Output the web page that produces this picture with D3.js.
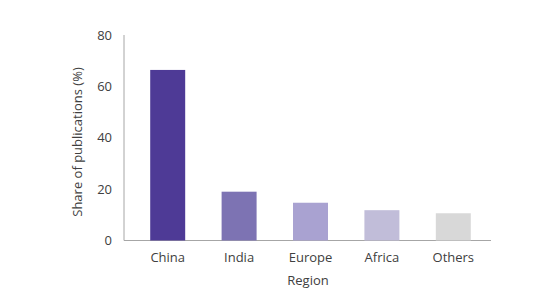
<!DOCTYPE html>
<html><head><meta charset="utf-8">
<script src="https://cdn.jsdelivr.net/npm/d3@7"></script>
<style>body{margin:0;background:#fff;} svg{display:block;} text{font-family:"Open Sans","Noto Sans",sans-serif;}</style>
</head><body>
<svg id="c" width="553" height="307"></svg>
<script>
const categories = ["China","India","Europe","Africa","Others"];
const values = [66.4, 19.0, 14.7, 11.8, 10.6];
const colors = ["#4e3a96","#7d73b3","#a9a2d1","#c1bdd9","#d8d8d8"];
const yTicks = [0,20,40,60,80];

const svg = d3.select("#c");
const x = d3.scaleBand().domain(categories).range([132,489]).paddingInner(0.51).paddingOuter(0.255);
const y = d3.scaleLinear().domain([0,80]).range([240.5,35]);

// axes lines
svg.append("line").attr("x1",124).attr("x2",124).attr("y1",y(80)).attr("y2",y(0)).attr("stroke","#a6a6a6").attr("stroke-width",1);
svg.append("line").attr("x1",124).attr("x2",491).attr("y1",y(0)).attr("y2",y(0)).attr("stroke","#a6a6a6").attr("stroke-width",1);

svg.selectAll("rect.bar").data(values).enter().append("rect")
  .attr("x",(d,i)=>x(categories[i])).attr("width",x.bandwidth())
  .attr("y",d=>y(d)).attr("height",d=>y(0)-y(d))
  .attr("fill",(d,i)=>colors[i]);

svg.selectAll("text.yt").data(yTicks).enter().append("text")
  .attr("x",112).attr("y",d=>y(d)).attr("dy","0.35em").attr("text-anchor","end")
  .attr("font-size",13).attr("fill","#404040").text(d=>d);

svg.selectAll("text.xt").data(categories).enter().append("text")
  .attr("x",d=>x(d)+x.bandwidth()/2).attr("y",257).attr("dy","0.35em").attr("text-anchor","middle")
  .attr("font-size",13).attr("fill","#404040").text(d=>d);

svg.append("text").attr("x",308).attr("y",280).attr("dy","0.35em").attr("text-anchor","middle")
  .attr("font-size",13).attr("fill","#404040").text("Region");

svg.append("text").attr("transform","translate(77,142) rotate(-90)").attr("dy","0.35em").attr("text-anchor","middle")
  .attr("font-size",13).attr("fill","#404040").text("Share of publications (%)");
</script>
</body></html>
